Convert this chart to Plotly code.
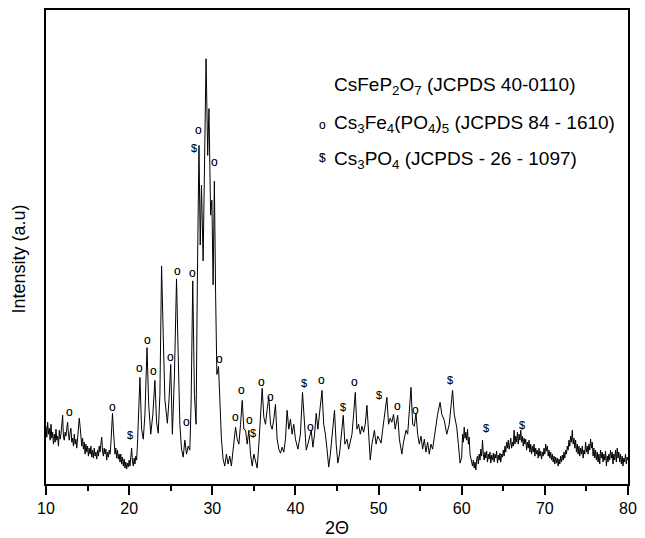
import numpy as np
import plotly.graph_objects as go

# ---------- data (2-theta in degrees, intensity in arbitrary units) ----------
# low-angle scan, 0.1 degree steps from 10.0 to 21.0
low_x = np.round(np.arange(10.0, 21.05, 0.1), 2)
low_y = [
    58, 47, 62, 50, 56, 44, 60, 46, 52, 40,
    50, 42, 55, 44, 48, 38, 54, 45, 50, 58,
    69, 47, 44, 52, 48, 56, 62, 50, 44, 52,
    56, 42, 46, 38, 50, 40, 45, 36, 48, 55,
    66, 58, 42, 38, 46, 35, 42, 30, 40, 32,
    38, 28, 36, 30, 38, 27, 34, 26, 36, 28,
    32, 25, 34, 28, 38, 32, 40, 47, 33, 28,
    36, 30, 35, 24, 32, 27, 34, 30, 40, 52,
    71, 55, 38, 30, 36, 26, 34, 25, 30, 22,
    30, 20, 27, 18, 25, 16, 22, 15, 21, 17,
    24, 18, 27, 36, 22, 18, 26, 20, 28, 24,
    40,
]

# main reflection region
mid_x = [
    21.1, 21.3, 21.5, 21.7, 21.9, 22.15, 22.35, 22.6, 22.85, 23.1, 23.3, 23.5, 23.7, 23.9, 24.1, 24.3, 24.6, 24.8, 25.0, 25.2,
    25.45, 25.7, 25.9, 26.1, 26.3, 26.5, 26.7, 26.9, 27.1, 27.3, 27.45, 27.65, 27.85, 28.05, 28.2, 28.4, 28.55, 28.7, 28.9, 29.05,
    29.25, 29.45, 29.6, 29.8, 29.95, 30.1, 30.25, 30.4, 30.55, 30.75, 30.9, 31.1, 31.3, 31.5, 31.7, 31.9, 32.1, 32.3, 32.5, 32.8,
    33.0, 33.2, 33.4, 33.6, 33.8, 34.0, 34.2, 34.4, 34.6, 34.8, 35.0, 35.2, 35.4, 35.6, 35.8, 36.0, 36.2, 36.4, 36.6, 36.8,
    37.0, 37.2, 37.4, 37.6, 37.8, 38.0, 38.2, 38.4, 38.6, 38.8, 39.0, 39.2, 39.4, 39.6, 39.8, 40.0, 40.3, 40.6, 40.85, 41.05,
    41.3, 41.5, 41.7, 41.9, 42.1, 42.3, 42.5, 42.7, 42.95, 43.2, 43.4, 43.6, 43.8, 44.0, 44.2, 44.4, 44.7, 44.9, 45.1, 45.3,
    45.5, 45.75, 45.95, 46.2, 46.4, 46.6, 46.8, 47.0, 47.2, 47.4, 47.6, 47.8, 48.0, 48.2, 48.4, 48.6, 48.8, 49.0, 49.2, 49.5,
    49.7, 49.9, 50.1, 50.3, 50.5, 50.75, 51.0, 51.2, 51.4, 51.6, 51.8, 52.0, 52.3, 52.5, 52.8, 53.0, 53.3, 53.5, 53.7, 53.9,
    54.1, 54.3, 54.5, 54.7, 54.9, 55.1, 55.3, 55.5, 55.7, 55.9, 56.1, 56.3, 56.5, 56.8, 57.1, 57.4, 57.6, 57.9, 58.2, 58.5,
    58.7, 58.9, 59.1, 59.4, 59.6, 59.8,
]
mid_y = [
    60, 107, 55, 45, 70, 137, 80, 50, 70, 104, 62, 51, 90, 219, 150, 85, 61, 85, 120, 50,
    110, 206, 130, 60, 35, 27, 44, 30, 38, 34, 80, 204, 90, 60, 200, 340, 240, 300, 224, 300,
    427, 330, 377, 270, 285, 200, 304, 190, 110, 118, 80, 45, 25, 18, 30, 20, 28, 18, 34, 57,
    45, 40, 60, 84, 55, 54, 40, 54, 30, 18, 30, 22, 16, 40, 70, 96, 67, 60, 75, 87,
    60, 55, 65, 80, 45, 35, 31, 37, 32, 45, 74, 55, 65, 50, 60, 45, 35, 50, 92, 60,
    34, 40, 48, 54, 37, 50, 71, 55, 75, 94, 60, 50, 35, 17, 30, 50, 74, 40, 21, 30,
    45, 69, 40, 45, 35, 43, 50, 70, 92, 55, 60, 50, 58, 52, 60, 79, 45, 24, 40, 54,
    40, 48, 45, 41, 55, 70, 87, 60, 66, 62, 70, 55, 69, 45, 30, 42, 54, 50, 70, 97,
    60, 58, 71, 50, 40, 48, 35, 45, 32, 42, 30, 40, 35, 55, 70, 82, 70, 64, 50, 60,
    75, 94, 70, 57, 40, 21,
]

# high-angle scan, 0.1 degree steps from 60.0 to 80.0
high_x = np.round(np.arange(60.0, 80.05, 0.1), 2)
high_y = [
    27, 50, 42, 57, 46, 52, 44, 55, 40, 47,
    30, 25, 20, 18, 24, 16, 22, 14, 25, 28,
    20, 30, 24, 35, 28, 44, 30, 24, 32, 26,
    33, 22, 30, 25, 32, 21, 29, 24, 31, 22,
    30, 26, 33, 21, 29, 24, 31, 22, 30, 27,
    34, 28, 38, 32, 42, 36, 44, 35, 40, 46,
    36, 42, 38, 54, 40, 48, 42, 52, 40, 50,
    44, 54, 42, 48, 38, 46, 40, 45, 34, 42,
    36, 44, 32, 40, 30, 38, 32, 40, 28, 36,
    30, 34, 26, 36, 28, 33, 25, 32, 28, 36,
    30, 40, 33, 38, 28, 34, 26, 32, 24, 30,
    22, 28, 20, 27, 21, 26, 18, 25, 20, 28,
    22, 29, 24, 32, 26, 34, 30, 38, 34, 44,
    38, 48, 42, 54, 40, 46, 36, 44, 32, 40,
    30, 38, 28, 36, 30, 38, 26, 34, 30, 42,
    32, 38, 30, 40, 34, 45, 36, 42, 28, 36,
    26, 34, 24, 32, 22, 30, 20, 34, 26, 32,
    22, 30, 24, 33, 18, 28, 22, 30, 24, 34,
    26, 32, 20, 30, 24, 34, 22, 36, 26, 32,
    22, 30, 20, 28, 18, 26, 22, 30, 20, 27,
    24,
]

# peak labels: Cs3Fe4(PO4)5 ("o") and Cs3PO4 ("$")
o_peaks_x = [12.8, 18.0, 21.2, 22.15, 22.9, 25.0, 25.8, 26.85, 27.6, 28.4, 30.3, 30.9, 32.8, 33.55, 34.5, 35.9, 36.95, 41.8, 43.1, 47.15, 52.25, 54.5]
o_peaks_y = [72, 77, 116, 145, 113, 128, 214, 62, 212, 356, 323, 126, 67, 94, 64, 102, 87, 57, 104, 102, 78, 74]
s_peaks_x = [20.1, 27.8, 34.95, 41.0, 45.75, 50.1, 58.6, 62.95, 67.2]
s_peaks_y = [49, 337, 51, 101, 77, 89, 104, 56, 59]

legend_symbols = ["", "o", "$"]
legend_lines = [
    "CsFeP<sub>2</sub>O<sub>7</sub> (JCPDS 40-0110)",
    "Cs<sub>3</sub>Fe<sub>4</sub>(PO<sub>4</sub>)<sub>5</sub> (JCPDS 84 - 1610)",
    "Cs<sub>3</sub>PO<sub>4</sub> (JCPDS - 26 - 1097)",
]

x_title = "2Θ"
y_title = "Intensity (a.u)"

# ---------- figure ----------
FONT = "Arial, Liberation Sans, sans-serif"
two_theta = list(low_x) + mid_x + list(high_x)
intensity = low_y + mid_y + high_y

fig = go.Figure()
fig.add_trace(go.Scatter(x=two_theta, y=intensity, mode="lines",
                         line=dict(color="black", width=1), showlegend=False, hoverinfo="skip"))

SHADOW = "0px 0px 0.5px rgba(0,0,0,0.35)"
annotations = []
for x, y in zip(o_peaks_x, o_peaks_y):
    annotations.append(dict(x=x, y=y, xref="x", yref="y", text="o", showarrow=False,
                            font=dict(family=FONT, size=12, color="black", shadow=SHADOW)))
for x, y in zip(s_peaks_x, s_peaks_y):
    annotations.append(dict(x=x, y=y, xref="x", yref="y", text="$", showarrow=False,
                            font=dict(family=FONT, size=11, color="black", shadow=SHADOW)))

legend_y = [400, 362, 325]
for ly, sym, txt in zip(legend_y, legend_symbols, legend_lines):
    annotations.append(dict(x=44.35, y=ly, xref="x", yref="y", text=txt, showarrow=False,
                            xanchor="left", yanchor="middle",
                            font=dict(family=FONT, size=19, color="black")))
    if sym:
        annotations.append(dict(x=43.2, y=ly + (-1 if sym == "o" else 2), xref="x", yref="y", text=sym,
                                showarrow=False, xanchor="center", yanchor="middle",
                                font=dict(family=FONT, size=12, color="black", shadow=SHADOW)))

annotations.append(dict(x=-0.047, y=0.475, xref="paper", yref="paper", text=y_title, textangle=-90,
                        xanchor="center", yanchor="middle",
                        showarrow=False, font=dict(family=FONT, size=18, color="black")))
annotations.append(dict(x=0.5, y=-0.092, xref="paper", yref="paper", text=x_title,
                        xanchor="center", yanchor="middle",
                        showarrow=False, font=dict(family=FONT, size=18, color="black")))

fig.update_layout(
    width=645, height=538,
    margin=dict(l=46, r=12, t=8, b=54),
    paper_bgcolor="white", plot_bgcolor="white",
    font=dict(family=FONT, color="black"),
    annotations=annotations,
    xaxis=dict(range=[10, 80], dtick=10, tick0=10, showgrid=False, zeroline=False,
               showline=True, linewidth=2, linecolor="black", mirror=True,
               ticks="outside", ticklen=9, tickwidth=1.5, tickcolor="black",
               minor=dict(dtick=5, tick0=10, ticks="outside", ticklen=5, tickwidth=1.5, tickcolor="black"),
               tickfont=dict(size=16, family=FONT)),
    yaxis=dict(range=[0, 476], showgrid=False, zeroline=False, showticklabels=False,
               showline=True, linewidth=2, linecolor="black", mirror=True, ticks=""),
)

fig.write_html("out.html")
